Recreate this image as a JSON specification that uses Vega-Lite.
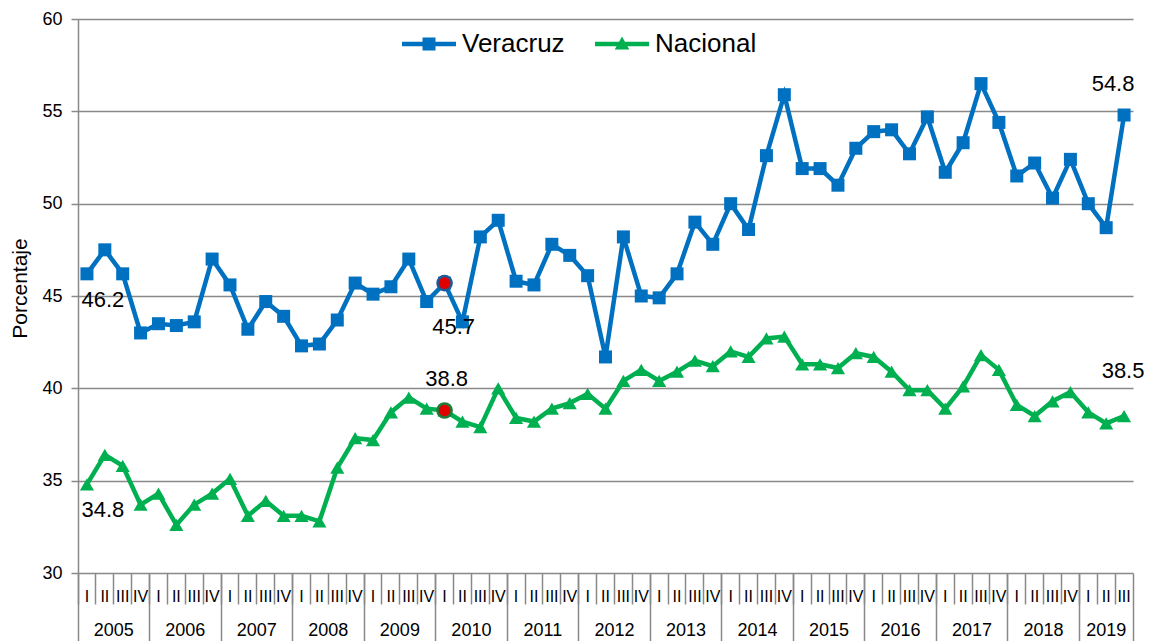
{
  "$schema": "https://vega.github.io/schema/vega-lite/v6.json",
  "width": 1055,
  "height": 554,
  "autosize": "none",
  "padding": {"left": 78, "top": 19, "right": 19, "bottom": 68},
  "config": {
    "font": "Liberation Sans",
    "view": {"stroke": null},
    "axis": {"labelColor": "#000000", "titleColor": "#000000"},
    "axisY": {"grid": true, "gridColor": "#898989", "gridWidth": 1.5, "domainColor": "#898989", "domainWidth": 1.5, "tickColor": "#898989", "tickWidth": 1.5, "tickSize": 7, "labelFontSize": 18, "labelPadding": 9, "titleFontSize": 21, "titleFontWeight": "normal", "titlePadding": 11, "titleY": 269}
  },
  "data": {
    "values": [
      {"period": "2005 I", "Veracruz": 46.2, "Nacional": 34.8},
      {"period": "2005 II", "Veracruz": 47.5, "Nacional": 36.4},
      {"period": "2005 III", "Veracruz": 46.2, "Nacional": 35.8},
      {"period": "2005 IV", "Veracruz": 43.0, "Nacional": 33.7},
      {"period": "2006 I", "Veracruz": 43.5, "Nacional": 34.3},
      {"period": "2006 II", "Veracruz": 43.4, "Nacional": 32.6},
      {"period": "2006 III", "Veracruz": 43.6, "Nacional": 33.7},
      {"period": "2006 IV", "Veracruz": 47.0, "Nacional": 34.3},
      {"period": "2007 I", "Veracruz": 45.6, "Nacional": 35.1},
      {"period": "2007 II", "Veracruz": 43.2, "Nacional": 33.1},
      {"period": "2007 III", "Veracruz": 44.7, "Nacional": 33.9},
      {"period": "2007 IV", "Veracruz": 43.9, "Nacional": 33.1},
      {"period": "2008 I", "Veracruz": 42.3, "Nacional": 33.1},
      {"period": "2008 II", "Veracruz": 42.4, "Nacional": 32.8},
      {"period": "2008 III", "Veracruz": 43.7, "Nacional": 35.7},
      {"period": "2008 IV", "Veracruz": 45.7, "Nacional": 37.3},
      {"period": "2009 I", "Veracruz": 45.1, "Nacional": 37.2},
      {"period": "2009 II", "Veracruz": 45.5, "Nacional": 38.7},
      {"period": "2009 III", "Veracruz": 47.0, "Nacional": 39.5},
      {"period": "2009 IV", "Veracruz": 44.7, "Nacional": 38.9},
      {"period": "2010 I", "Veracruz": 45.7, "Nacional": 38.8},
      {"period": "2010 II", "Veracruz": 43.6, "Nacional": 38.2},
      {"period": "2010 III", "Veracruz": 48.2, "Nacional": 37.9},
      {"period": "2010 IV", "Veracruz": 49.1, "Nacional": 40.0},
      {"period": "2011 I", "Veracruz": 45.8, "Nacional": 38.4},
      {"period": "2011 II", "Veracruz": 45.6, "Nacional": 38.2},
      {"period": "2011 III", "Veracruz": 47.8, "Nacional": 38.9},
      {"period": "2011 IV", "Veracruz": 47.2, "Nacional": 39.2},
      {"period": "2012 I", "Veracruz": 46.1, "Nacional": 39.7},
      {"period": "2012 II", "Veracruz": 41.7, "Nacional": 38.9},
      {"period": "2012 III", "Veracruz": 48.2, "Nacional": 40.4},
      {"period": "2012 IV", "Veracruz": 45.0, "Nacional": 41.0},
      {"period": "2013 I", "Veracruz": 44.9, "Nacional": 40.4},
      {"period": "2013 II", "Veracruz": 46.2, "Nacional": 40.9},
      {"period": "2013 III", "Veracruz": 49.0, "Nacional": 41.5},
      {"period": "2013 IV", "Veracruz": 47.8, "Nacional": 41.2},
      {"period": "2014 I", "Veracruz": 50.0, "Nacional": 42.0},
      {"period": "2014 II", "Veracruz": 48.6, "Nacional": 41.7},
      {"period": "2014 III", "Veracruz": 52.6, "Nacional": 42.7},
      {"period": "2014 IV", "Veracruz": 55.9, "Nacional": 42.8},
      {"period": "2015 I", "Veracruz": 51.9, "Nacional": 41.3},
      {"period": "2015 II", "Veracruz": 51.9, "Nacional": 41.3},
      {"period": "2015 III", "Veracruz": 51.0, "Nacional": 41.1},
      {"period": "2015 IV", "Veracruz": 53.0, "Nacional": 41.9},
      {"period": "2016 I", "Veracruz": 53.9, "Nacional": 41.7},
      {"period": "2016 II", "Veracruz": 54.0, "Nacional": 40.9},
      {"period": "2016 III", "Veracruz": 52.7, "Nacional": 39.9},
      {"period": "2016 IV", "Veracruz": 54.7, "Nacional": 39.9},
      {"period": "2017 I", "Veracruz": 51.7, "Nacional": 38.9},
      {"period": "2017 II", "Veracruz": 53.3, "Nacional": 40.1},
      {"period": "2017 III", "Veracruz": 56.5, "Nacional": 41.8},
      {"period": "2017 IV", "Veracruz": 54.4, "Nacional": 41.0},
      {"period": "2018 I", "Veracruz": 51.5, "Nacional": 39.1},
      {"period": "2018 II", "Veracruz": 52.2, "Nacional": 38.5},
      {"period": "2018 III", "Veracruz": 50.3, "Nacional": 39.3},
      {"period": "2018 IV", "Veracruz": 52.4, "Nacional": 39.8},
      {"period": "2019 I", "Veracruz": 50.0, "Nacional": 38.7},
      {"period": "2019 II", "Veracruz": 48.7, "Nacional": 38.1},
      {"period": "2019 III", "Veracruz": 54.8, "Nacional": 38.5}
    ]
  },
  "resolve": {"axis": {"x": "independent"}},
  "layer": [
    {
      "mark": {"type": "line", "strokeWidth": 4.5},
      "encoding": {
        "x": {"field": "period", "type": "ordinal", "sort": null,
          "scale": {"type": "band", "paddingInner": 0, "paddingOuter": 0},
          "axis": {"orient": "bottom", "title": null, "labelExpr": "split(datum.value, ' ')[1]", "labelAngle": 0, "labelFontSize": 16, "labelPadding": 15, "ticks": false, "domain": false, "grid": false, "labelOverlap": false}},
        "y": {"field": "Veracruz", "type": "quantitative", "title": "Porcentaje",
          "scale": {"domain": [30, 60], "nice": false, "zero": false},
          "axis": {"values": [30, 35, 40, 45, 50, 55, 60], "title": "Porcentaje"}},
        "color": {"datum": "Veracruz", "type": "nominal",
          "scale": {"domain": ["Veracruz", "Nacional"], "range": ["#0070C0", "#00B050"]},
          "legend": {"title": null, "orient": "none", "legendX": 324, "legendY": -2, "direction": "horizontal", "padding": 0,
            "labelFontSize": 26, "labelColor": "#000000", "labelOffset": 6, "columnPadding": 30, "symbolSize": 2916,
            "encode": {"symbols": {"update": {
              "shape": {"signal": "datum.value === 'Veracruz' ? 'M-1,-0.08L1,-0.08L1,0.08L-1,0.08Z M-0.24,-0.24L0.24,-0.24L0.24,0.24L-0.24,0.24Z' : 'M-1,-0.08L1,-0.08L1,0.08L-1,0.08Z M0,-0.28L0.27,0.2L-0.27,0.2Z'"},
              "fill": {"signal": "datum.value === 'Veracruz' ? '#0070C0' : '#00B050'"},
              "strokeWidth": {"value": 0},
              "size": {"value": 2916},
              "opacity": {"value": 1}
            }}}}}
      }
    },
    {
      "mark": {"type": "line", "strokeWidth": 4.5},
      "encoding": {
        "x": {"field": "period", "type": "ordinal", "sort": null, "scale": {"type": "band", "paddingInner": 0, "paddingOuter": 0}, "axis": null},
        "y": {"field": "Nacional", "type": "quantitative", "title": "Porcentaje"},
        "color": {"datum": "Nacional", "type": "nominal"}
      }
    },
    {
      "mark": {"type": "point", "filled": true, "opacity": 1, "size": 169, "shape": "square"},
      "encoding": {
        "x": {"field": "period", "type": "ordinal", "sort": null, "scale": {"type": "band", "paddingInner": 0, "paddingOuter": 0}, "axis": null},
        "y": {"field": "Veracruz", "type": "quantitative", "title": "Porcentaje"},
        "color": {"datum": "Veracruz", "type": "nominal"}
      }
    },
    {
      "mark": {"type": "point", "filled": true, "opacity": 1, "size": 200, "shape": "triangle-up"},
      "encoding": {
        "x": {"field": "period", "type": "ordinal", "sort": null, "scale": {"type": "band", "paddingInner": 0, "paddingOuter": 0}, "axis": null},
        "y": {"field": "Nacional", "type": "quantitative", "title": "Porcentaje"},
        "color": {"datum": "Nacional", "type": "nominal"}
      }
    },
    {
      "transform": [{"filter": "datum.period === '2010 I'"}],
      "mark": {"type": "circle", "size": 200, "fill": "#E00000", "stroke": "#1F5A96", "strokeWidth": 2.5, "opacity": 1},
      "encoding": {
        "x": {"field": "period", "type": "ordinal", "sort": null, "scale": {"type": "band", "paddingInner": 0, "paddingOuter": 0}, "axis": null},
        "y": {"field": "Veracruz", "type": "quantitative", "title": "Porcentaje"}
      }
    },
    {
      "transform": [{"filter": "datum.period === '2010 I'"}],
      "mark": {"type": "circle", "size": 200, "fill": "#E00000", "stroke": "#1E7B3A", "strokeWidth": 2.5, "opacity": 1},
      "encoding": {
        "x": {"field": "period", "type": "ordinal", "sort": null, "scale": {"type": "band", "paddingInner": 0, "paddingOuter": 0}, "axis": null},
        "y": {"field": "Nacional", "type": "quantitative", "title": "Porcentaje"}
      }
    },
    {
      "transform": [{"filter": "datum.period === '2005 I'"}],
      "mark": {"type": "text", "fontSize": 22, "dx": 16, "dy": 26, "color": "#000000"},
      "encoding": {
        "x": {"field": "period", "type": "ordinal", "sort": null, "scale": {"type": "band", "paddingInner": 0, "paddingOuter": 0}, "axis": null},
        "y": {"field": "Veracruz", "type": "quantitative", "title": "Porcentaje"},
        "text": {"field": "Veracruz", "type": "quantitative", "format": ".1f"}
      }
    },
    {
      "transform": [{"filter": "datum.period === '2005 I'"}],
      "mark": {"type": "text", "fontSize": 22, "dx": 16, "dy": 26, "color": "#000000"},
      "encoding": {
        "x": {"field": "period", "type": "ordinal", "sort": null, "scale": {"type": "band", "paddingInner": 0, "paddingOuter": 0}, "axis": null},
        "y": {"field": "Nacional", "type": "quantitative", "title": "Porcentaje"},
        "text": {"field": "Nacional", "type": "quantitative", "format": ".1f"}
      }
    },
    {
      "transform": [{"filter": "datum.period === '2010 I'"}],
      "mark": {"type": "text", "fontSize": 22, "dx": 9, "dy": 44, "color": "#000000"},
      "encoding": {
        "x": {"field": "period", "type": "ordinal", "sort": null, "scale": {"type": "band", "paddingInner": 0, "paddingOuter": 0}, "axis": null},
        "y": {"field": "Veracruz", "type": "quantitative", "title": "Porcentaje"},
        "text": {"field": "Veracruz", "type": "quantitative", "format": ".1f"}
      }
    },
    {
      "transform": [{"filter": "datum.period === '2010 I'"}],
      "mark": {"type": "text", "fontSize": 22, "dx": 2, "dy": -31, "color": "#000000"},
      "encoding": {
        "x": {"field": "period", "type": "ordinal", "sort": null, "scale": {"type": "band", "paddingInner": 0, "paddingOuter": 0}, "axis": null},
        "y": {"field": "Nacional", "type": "quantitative", "title": "Porcentaje"},
        "text": {"field": "Nacional", "type": "quantitative", "format": ".1f"}
      }
    },
    {
      "transform": [{"filter": "datum.period === '2019 III'"}],
      "mark": {"type": "text", "fontSize": 22, "dx": -11, "dy": -31, "color": "#000000"},
      "encoding": {
        "x": {"field": "period", "type": "ordinal", "sort": null, "scale": {"type": "band", "paddingInner": 0, "paddingOuter": 0}, "axis": null},
        "y": {"field": "Veracruz", "type": "quantitative", "title": "Porcentaje"},
        "text": {"field": "Veracruz", "type": "quantitative", "format": ".1f"}
      }
    },
    {
      "transform": [{"filter": "datum.period === '2019 III'"}],
      "mark": {"type": "text", "fontSize": 22, "dx": -1, "dy": -45, "color": "#000000"},
      "encoding": {
        "x": {"field": "period", "type": "ordinal", "sort": null, "scale": {"type": "band", "paddingInner": 0, "paddingOuter": 0}, "axis": null},
        "y": {"field": "Nacional", "type": "quantitative", "title": "Porcentaje"},
        "text": {"field": "Nacional", "type": "quantitative", "format": ".1f"}
      }
    },
    {
      "mark": {"type": "point", "opacity": 0},
      "encoding": {
        "x": {"field": "period", "type": "ordinal", "sort": null, "scale": {"type": "band", "paddingInner": 0, "paddingOuter": 0},
          "axis": {"orient": "bottom", "title": null, "labels": false, "domain": false, "grid": false, "ticks": true, "tickSize": 31, "tickColor": "#898989", "tickWidth": 1.5, "bandPosition": 0}}
      }
    },
    {
      "mark": {"type": "point", "opacity": 0},
      "encoding": {
        "x": {"field": "period", "type": "ordinal", "sort": null, "scale": {"type": "band", "paddingInner": 0, "paddingOuter": 0},
          "axis": {"orient": "bottom", "title": null, "labels": false, "domain": false, "grid": false, "ticks": true, "tickSize": 70, "tickColor": "#898989", "tickWidth": 1.5, "bandPosition": 0,
            "values": ["2005 I", "2006 I", "2007 I", "2008 I", "2009 I", "2010 I", "2011 I", "2012 I", "2013 I", "2014 I", "2015 I", "2016 I", "2017 I", "2018 I", "2019 I"]}}
      }
    },
    {
      "mark": {"type": "point", "opacity": 0},
      "encoding": {
        "x": {"field": "period", "type": "ordinal", "sort": null, "scale": {"type": "band", "paddingInner": 0, "paddingOuter": 0},
          "axis": {"orient": "bottom", "title": null, "labels": false, "domain": false, "grid": false, "ticks": true, "tickSize": 70, "tickColor": "#898989", "tickWidth": 1.5, "bandPosition": 1, "values": ["2019 III"]}}
      }
    },
    {
      "mark": {"type": "point", "opacity": 0},
      "encoding": {
        "x": {"field": "period", "type": "ordinal", "sort": null, "scale": {"type": "band", "paddingInner": 0, "paddingOuter": 0},
          "axis": {"orient": "bottom", "title": null, "ticks": false, "domain": false, "grid": false, "labelOffset": -8.94, "labelAngle": 0, "labelFontSize": 18, "labelPadding": 48, "labelOverlap": false, "labelExpr": "split(datum.value, ' ')[0]",
            "values": ["2005 III", "2006 III", "2007 III", "2008 III", "2009 III", "2010 III", "2011 III", "2012 III", "2013 III", "2014 III", "2015 III", "2016 III", "2017 III", "2018 III"]}}
      }
    },
    {
      "mark": {"type": "point", "opacity": 0},
      "encoding": {
        "x": {"field": "period", "type": "ordinal", "sort": null, "scale": {"type": "band", "paddingInner": 0, "paddingOuter": 0},
          "axis": {"orient": "bottom", "title": null, "ticks": false, "domain": false, "grid": false, "labelAngle": 0, "labelFontSize": 18, "labelPadding": 48, "labelOverlap": false, "labelExpr": "split(datum.value, ' ')[0]", "values": ["2019 II"]}}
      }
    }
  ]
}
